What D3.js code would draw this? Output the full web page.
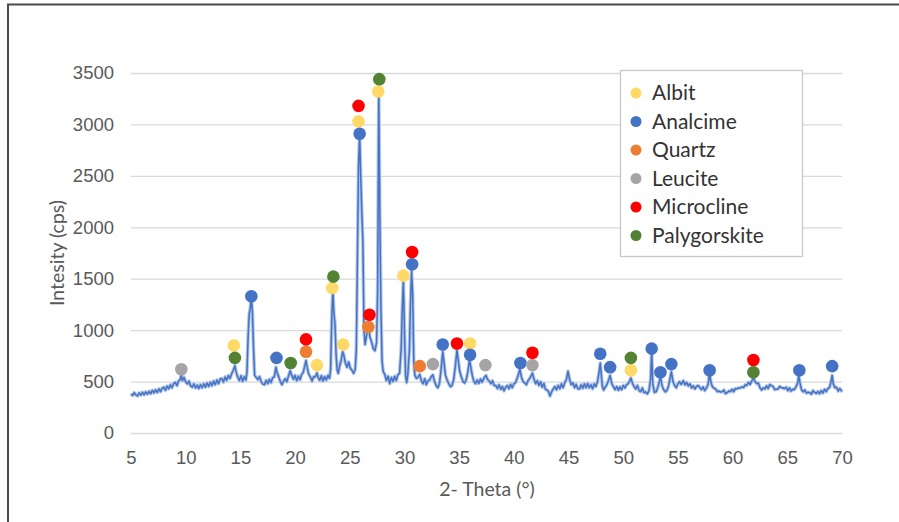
<!DOCTYPE html>
<html>
<head>
<meta charset="utf-8">
<script src="https://cdn.jsdelivr.net/npm/d3@7"></script>
<style>
  body { margin: 0; background: #fff; }
  svg { display: block; font-family: Lato, "Liberation Sans", sans-serif; }
</style>
</head>
<body>
<svg id="chart" width="899" height="522"></svg>
<script>

// Tick values of both axes
var xTicks = [5, 10, 15, 20, 25, 30, 35, 40, 45, 50, 55, 60, 65, 70];
var yTicks = [0, 500, 1000, 1500, 2000, 2500, 3000, 3500];

// Diffractogram, [2-theta, cps]
var scan = [
  [5.0,380],[5.15,365],[5.3,392],[5.45,370],[5.6,360],[5.75,390],[5.9,368],[6.05,395],[6.2,372],[6.35,400],
  [6.5,378],[6.65,405],[6.8,382],[6.95,415],[7.1,390],[7.25,420],[7.4,395],[7.55,428],[7.7,402],[7.85,436],
  [8.0,445],[8.15,415],[8.3,456],[8.45,430],[8.6,468],[8.75,440],[8.9,482],[9.05,492],[9.2,460],[9.35,505],
  [9.5,520],[9.6,565],[9.7,510],[9.85,540],[10.0,495],[10.15,478],[10.3,505],[10.45,458],[10.6,445],[10.75,478],
  [10.9,438],[11.05,466],[11.2,432],[11.35,470],[11.5,440],[11.65,478],[11.8,446],[11.95,486],[12.1,452],[12.25,494],
  [12.4,460],[12.55,505],[12.7,470],[12.85,515],[13.0,480],[13.15,525],[13.3,530],[13.45,495],[13.6,545],[13.75,512],
  [13.9,558],[14.05,530],[14.2,576],[14.35,610],[14.5,655],[14.6,598],[14.75,545],[14.9,510],[15.05,556],[15.2,502],
  [15.35,548],[15.5,515],[15.6,590],[15.7,920],[15.8,1150],[15.9,1210],[16.0,1310],[16.1,1180],[16.2,820],[16.3,560],
  [16.45,540],[16.6,520],[16.75,548],[16.9,500],[17.05,475],[17.2,470],[17.35,512],[17.5,480],[17.65,522],[17.8,490],
  [17.95,538],[18.1,545],[18.25,640],[18.35,590],[18.5,548],[18.65,500],[18.8,470],[18.95,505],[19.1,528],[19.25,498],
  [19.4,555],[19.55,605],[19.7,560],[19.85,522],[20.0,560],[20.15,508],[20.3,552],[20.45,518],[20.6,568],[20.75,590],
  [20.9,660],[21.0,705],[21.1,640],[21.25,570],[21.4,545],[21.55,505],[21.7,548],[21.85,545],[22.0,585],[22.1,540],
  [22.25,512],[22.4,556],[22.55,505],[22.7,548],[22.85,515],[23.0,560],[23.15,532],[23.25,620],[23.35,1100],[23.45,1400],
  [23.55,1160],[23.65,1060],[23.75,760],[23.85,610],[23.95,580],[24.05,640],[24.2,700],[24.35,790],[24.45,760],[24.6,680],
  [24.75,640],[24.9,690],[25.05,630],[25.2,610],[25.35,580],[25.5,620],[25.6,820],[25.7,1700],[25.8,2600],[25.9,2900],
  [26.0,2500],[26.1,2150],[26.2,1850],[26.3,1000],[26.4,860],[26.5,930],[26.6,980],[26.75,1000],[26.85,930],[26.95,900],
  [27.05,860],[27.15,820],[27.3,800],[27.45,880],[27.55,1400],[27.65,3320],[27.75,2100],[27.85,1200],[27.95,700],[28.05,600],
  [28.2,570],[28.35,510],[28.5,552],[28.65,480],[28.8,540],[28.95,500],[29.1,552],[29.25,510],[29.4,568],[29.55,580],
  [29.7,820],[29.8,1200],[29.9,1490],[30.0,1000],[30.1,560],[30.2,490],[30.3,560],[30.45,800],[30.55,1250],[30.65,1580],
  [30.75,1350],[30.85,700],[30.95,560],[31.1,530],[31.25,545],[31.4,570],[31.55,505],[31.7,480],[31.85,528],[32.0,470],
  [32.15,508],[32.3,515],[32.45,548],[32.6,565],[32.75,500],[32.9,460],[33.05,440],[33.2,480],[33.35,620],[33.5,790],
  [33.6,700],[33.75,560],[33.9,515],[34.05,480],[34.2,450],[34.35,462],[34.5,520],[34.65,650],[34.8,805],[34.9,720],
  [35.05,600],[35.2,545],[35.35,500],[35.5,486],[35.65,520],[35.8,600],[35.95,710],[36.05,650],[36.2,560],[36.35,500],
  [36.5,480],[36.65,515],[36.8,482],[36.95,525],[37.1,495],[37.3,540],[37.45,560],[37.6,520],[37.75,505],[37.9,480],
  [38.05,508],[38.2,462],[38.35,462],[38.5,432],[38.65,468],[38.8,425],[38.95,452],[39.1,410],[39.25,445],[39.4,462],
  [39.55,430],[39.7,472],[39.85,440],[40.0,478],[40.15,490],[40.3,530],[40.45,580],[40.55,620],[40.7,540],[40.85,500],
  [41.0,486],[41.15,470],[41.3,510],[41.45,530],[41.6,560],[41.7,583],[41.85,520],[42.0,480],[42.15,508],[42.3,462],
  [42.45,498],[42.6,445],[42.75,482],[42.9,422],[43.05,418],[43.2,395],[43.3,360],[43.45,400],[43.6,428],[43.75,452],
  [43.9,420],[44.05,462],[44.2,430],[44.35,478],[44.5,440],[44.65,488],[44.8,520],[44.95,600],[45.1,520],[45.25,470],
  [45.4,488],[45.55,440],[45.7,472],[45.85,430],[46.0,428],[46.15,468],[46.3,435],[46.45,478],[46.6,440],[46.75,482],
  [46.9,440],[47.05,468],[47.2,430],[47.35,478],[47.5,452],[47.65,500],[47.8,600],[47.9,680],[48.0,560],[48.1,450],
  [48.2,418],[48.35,445],[48.5,470],[48.65,510],[48.8,560],[48.95,480],[49.1,450],[49.25,422],[49.4,452],[49.55,415],
  [49.7,448],[49.85,420],[50.0,462],[50.15,438],[50.3,468],[50.45,480],[50.6,510],[50.7,535],[50.85,480],[51.0,450],
  [51.15,428],[51.3,462],[51.45,412],[51.6,402],[51.75,438],[51.9,392],[52.05,400],[52.2,380],[52.35,410],[52.5,520],
  [52.6,800],[52.7,480],[52.85,395],[53.0,400],[53.15,440],[53.3,500],[53.4,545],[53.55,460],[53.7,420],[53.85,400],
  [54.0,415],[54.15,460],[54.3,540],[54.4,595],[54.55,500],[54.7,460],[54.85,440],[55.0,478],[55.15,498],[55.3,472],
  [55.5,508],[55.65,468],[55.8,492],[55.95,458],[56.1,478],[56.25,438],[56.4,458],[56.55,428],[56.7,452],[56.85,462],
  [57.0,442],[57.15,422],[57.3,448],[57.45,412],[57.6,436],[57.75,470],[57.9,580],[58.0,500],[58.15,450],[58.3,435],
  [58.45,428],[58.6,402],[58.75,408],[58.9,398],[59.05,402],[59.2,418],[59.35,382],[59.5,392],[59.65,408],[59.8,402],
  [59.95,425],[60.1,402],[60.25,432],[60.4,430],[60.55,438],[60.7,438],[60.85,448],[61.0,442],[61.15,468],[61.3,462],
  [61.45,492],[61.6,472],[61.75,505],[61.9,535],[62.05,500],[62.2,480],[62.35,486],[62.5,440],[62.65,418],[62.8,438],
  [62.95,428],[63.1,458],[63.25,432],[63.4,470],[63.55,460],[63.7,452],[63.85,422],[64.0,425],[64.15,428],[64.3,452],
  [64.45,442],[64.6,438],[64.75,432],[64.9,445],[65.05,412],[65.2,438],[65.35,408],[65.5,425],[65.65,422],[65.8,450],
  [65.95,490],[66.05,560],[66.15,490],[66.3,420],[66.45,401],[66.6,418],[66.75,388],[66.9,396],[67.05,392],[67.2,378],
  [67.35,412],[67.5,394],[67.65,384],[67.8,405],[67.95,382],[68.1,412],[68.25,388],[68.4,425],[68.55,402],[68.7,432],
  [68.85,440],[69.0,500],[69.1,560],[69.2,480],[69.35,440],[69.5,445],[69.65,408],[69.8,432],[69.95,410],[70.0,418]
];

// Peak labels per phase, [2-theta, cps]
var albit = [[14.4,850],[22.0,660],[23.4,1410],[24.4,860],[25.8,3030],[27.6,3320],[29.9,1530],[36.0,870],[50.7,610]];
var analcime = [[16.0,1330],[18.3,730],[25.9,2910],[30.7,1640],[33.5,860],[36.0,760],[40.6,680],[47.9,770],
                [48.8,640],[52.6,820],[53.4,590],[54.4,670],[57.9,610],[66.1,610],[69.1,650]];
var quartz = [[21.0,790],[26.7,1030],[31.4,650]];
var leucite = [[9.6,620],[32.6,670],[37.4,660],[41.7,660]];
var microcline = [[21.0,910],[25.8,3180],[26.8,1150],[30.7,1760],[34.8,870],[41.7,780],[61.9,710]];
var palygorskite = [[14.5,730],[19.6,680],[23.5,1520],[27.7,3440],[50.7,730],[61.9,590]];

var phaseNames = ["Albit", "Analcime", "Quartz", "Leucite", "Microcline", "Palygorskite"];
var phaseColors = ["#FFD966", "#4472C4", "#ED7D31", "#A5A5A5", "#FF0000", "#548235"];
var phasePeaks = [albit, analcime, quartz, leucite, microcline, palygorskite];

var svg = d3.select("#chart");

// Frame round the whole picture
svg.append("rect")
    .attr("x", 8).attr("y", 4.5)
    .attr("width", 900).attr("height", 530)
    .attr("fill", "none")
    .attr("stroke", "#4a4a4a")
    .attr("stroke-width", 2);

var x = d3.scaleLinear().domain([5, 70]).range([131, 842]);
var y = d3.scaleLinear().domain([0, 3500]).range([433, 73]);

// Horizontal grid and y labels
var yAxis = svg.append("g")
    .attr("transform", "translate(131,0)")
    .call(d3.axisLeft(y).tickValues(yTicks).tickFormat(d3.format("d"))
        .tickSize(-(842 - 131)).tickPadding(17));
yAxis.select(".domain").remove();
yAxis.selectAll("line").attr("stroke", "#d9d9d9").attr("stroke-width", 1.3);
yAxis.selectAll("text").attr("fill", "#595959").style("font-size", "18.5px");

var xAxis = svg.append("g")
    .attr("transform", "translate(0,433)")
    .call(d3.axisBottom(x).tickValues(xTicks).tickSize(0).tickPadding(18));
xAxis.select(".domain").remove();
xAxis.selectAll("text").attr("fill", "#595959").style("font-size", "18.5px");

// Axis titles
svg.append("text")
    .attr("transform", "translate(64,253) rotate(-90)")
    .attr("text-anchor", "middle")
    .attr("fill", "#595959")
    .style("font-size", "19.5px")
    .text("Intesity (cps)");

svg.append("text")
    .attr("x", 487).attr("y", 496)
    .attr("text-anchor", "middle")
    .attr("fill", "#595959")
    .style("font-size", "19.5px")
    .text("2- Theta (°)");

// The scan, a soft halo first then the line itself
var line = d3.line().x(d => x(d[0])).y(d => y(d[1]));

svg.append("path")
    .datum(scan)
    .attr("d", line)
    .attr("fill", "none")
    .attr("stroke", "#b4c7e7")
    .attr("stroke-width", 3.6)
    .attr("stroke-linejoin", "round");

svg.append("path")
    .datum(scan)
    .attr("d", line)
    .attr("fill", "none")
    .attr("stroke", "#4472C4")
    .attr("stroke-width", 1.5)
    .attr("stroke-linejoin", "round");

// Phase markers
for (var i = 0; i < phasePeaks.length; i++) {
    svg.append("g")
        .selectAll("circle")
        .data(phasePeaks[i])
        .join("circle")
            .attr("cx", d => x(d[0]))
            .attr("cy", d => y(d[1]))
            .attr("r", 6.3)
            .attr("fill", phaseColors[i]);
}

// Legend
var legend = svg.append("g");

legend.append("rect")
    .attr("x", 620.5).attr("y", 70.5)
    .attr("width", 182).attr("height", 186)
    .attr("fill", "#fff")
    .attr("stroke", "#c8c8c8")
    .attr("stroke-width", 1.3);

var rows = legend.selectAll("g.row")
    .data(phaseNames)
    .join("g")
        .attr("class", "row")
        .attr("transform", (d, i) => "translate(0," + (93 + i * 28.5) + ")");

rows.append("circle")
    .attr("cx", 636).attr("cy", 0)
    .attr("r", 5.5)
    .attr("fill", (d, i) => phaseColors[i]);

rows.append("text")
    .attr("x", 652).attr("y", 0)
    .attr("dy", "0.35em")
    .attr("fill", "#333")
    .style("font-size", "21px")
    .text(d => d);

</script>
</body>
</html>
